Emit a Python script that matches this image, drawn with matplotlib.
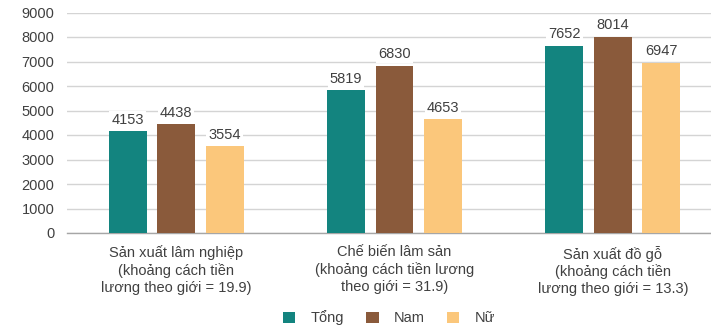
import matplotlib.pyplot as plt
import numpy as np
from matplotlib.patches import Patch

plt.rcParams['font.family'] = ['Liberation Sans', 'DejaVu Sans']

categories = [
    "Sản xuất lâm nghiệp\n(khoảng cách tiền\nlương theo giới = 19.9)",
    "Chế biến lâm sản\n(khoảng cách tiền lương\ntheo giới = 31.9)",
    "Sản xuất đồ gỗ\n(khoảng cách tiền\nlương theo giới = 13.3)",
]
series_names = ["Tổng", "Nam", "Nữ"]
tong = [4153, 5819, 7652]
nam = [4438, 6830, 8014]
nu = [3554, 4653, 6947]
yticks = [0, 1000, 2000, 3000, 4000, 5000, 6000, 7000, 8000, 9000]

colors = ["#13847F", "#8A5A3B", "#FBC77B"]
text_color = "#404040"
fs = 10.5

fig = plt.figure(figsize=(7.11, 3.28), dpi=100)
ax = fig.add_axes([67 / 711, 1 - 233 / 328, 655 / 711, 220.5 / 328])

x = np.arange(len(categories))
width = 0.174
step = 0.222
for i, (vals, col) in enumerate(zip([tong, nam, nu], colors)):
    bars = ax.bar(x + (i - 1) * step, vals, width, color=col, zorder=3)
    for b, v in zip(bars, vals):
        ax.text(b.get_x() + b.get_width() / 2, v + 180, str(v),
                ha="center", va="bottom", fontsize=fs, color=text_color,
                zorder=4,
                bbox=dict(facecolor="white", edgecolor="none", pad=1.5))

ax.set_xlim(-0.5, 2.5)
ax.set_ylim(0, 9000)
ax.set_yticks(yticks)
ax.yaxis.grid(True, color="#D4D4D4", linewidth=1, zorder=0)
ax.set_axisbelow(True)
ax.tick_params(axis="y", length=0, pad=9, labelsize=fs, labelcolor=text_color)
ax.set_xticks(x)
ax.set_xticklabels(categories, fontsize=fs, color=text_color, linespacing=1.25)
ax.tick_params(axis="x", length=0, pad=9)
for side in ["top", "right", "left"]:
    ax.spines[side].set_visible(False)
ax.spines["bottom"].set_color("#A6A6A6")
ax.spines["bottom"].set_linewidth(1)

handles = [Patch(facecolor=c, edgecolor="none") for c in colors]
fig.legend(handles, series_names, loc="center", bbox_to_anchor=(389 / 711, 1 - 318 / 328),
           ncol=3, frameon=False, fontsize=fs, handlelength=0.85, handleheight=0.85,
           handletextpad=1.05, columnspacing=1.5, labelcolor=text_color)

fig.savefig("out.png", dpi=100)
